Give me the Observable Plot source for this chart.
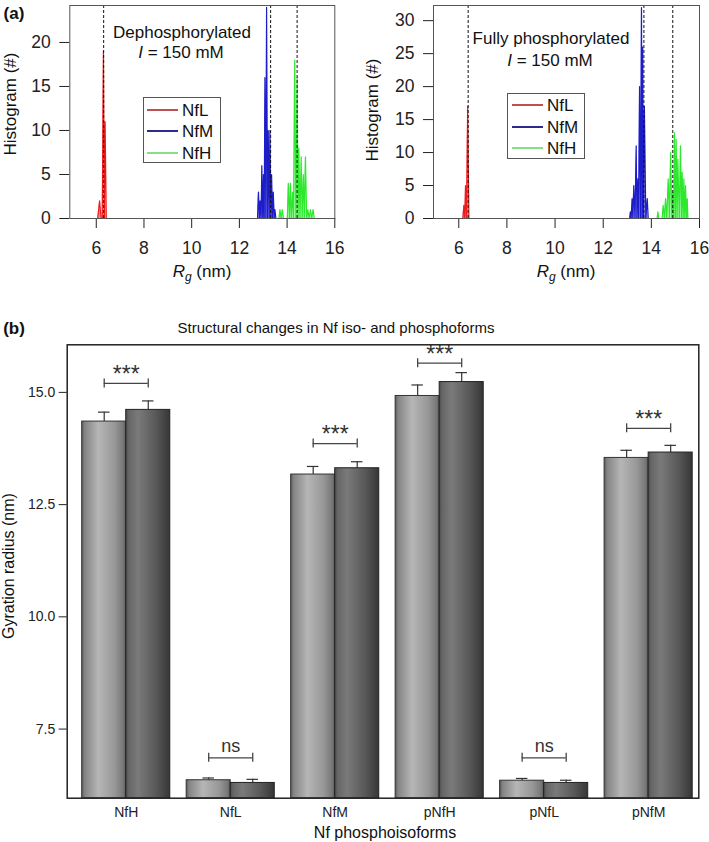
<!DOCTYPE html>
<html><head><meta charset="utf-8">
<script src="https://cdn.jsdelivr.net/npm/d3@7"></script>
<script src="https://cdn.jsdelivr.net/npm/@observablehq/plot@0.6"></script>
<style>
body{margin:0;background:#fff;font-family:"Liberation Sans",Arial,sans-serif;}
#wrap{position:relative;width:709px;height:842px;overflow:hidden;background:#fff;}
.abs{position:absolute;white-space:nowrap;color:#111;line-height:1;}
.plot{position:absolute;}
.legend{position:absolute;border:1px solid #555;background:#fff;box-sizing:border-box;}
</style></head><body><div id="wrap"></div>
<script>
// ---------- data: panel (a) histograms ----------
const rgTicks = [6, 8, 10, 12, 14, 16];
const seriesNames = ["NfL", "NfM", "NfH"];

const dephosNfL_rg = [5.47, 6.06, 6.14, 6.20, 6.25, 6.30, 6.34, 6.37, 6.42, 7.44];
const dephosNfL_n  = [0, 0, 2, 0, 0, 19, 0, 11, 0, 0];
const dephosNfM_rg = [12.55, 12.76, 12.80, 12.84, 12.87, 12.91, 12.94, 12.98, 13.01, 13.04, 13.07, 13.11, 13.14, 13.18, 13.21, 13.25, 13.28, 13.32, 13.35, 13.39, 13.42, 13.46, 13.49, 13.53, 13.60];
const dephosNfM_n  = [0, 0, 3, 0, 2, 0, 6, 0, 5, 0, 16, 0, 24, 0, 10, 0, 10, 0, 5, 0, 3, 0, 1, 0, 0];
const dephosNfH_rg = [13.60, 13.66, 13.70, 13.75, 13.80, 13.85, 14.01, 14.05, 14.10, 14.14, 14.18, 14.23, 14.27, 14.32, 14.37, 14.42, 14.46, 14.49, 14.54, 14.59, 14.63, 14.68, 14.72, 14.77, 14.82, 14.87, 14.92, 14.98, 15.03, 15.09, 15.14, 15.45];
const dephosNfH_n  = [0, 0, 1, 0, 1, 0, 0, 4, 0, 4, 0, 3, 0, 18, 0, 16, 0, 8, 0, 7, 0, 5, 0, 7, 0, 1, 0, 1, 0, 1, 0, 0];
const dephosMeans  = [6.31, 13.31, 14.42];

const phosNfL_rg = [5.52, 6.17, 6.21, 6.25, 6.28, 6.32, 6.37, 6.42, 7.48];
const phosNfL_n  = [0, 0, 2, 0, 5, 0, 17, 0, 0];
const phosNfM_rg = [13.08, 13.10, 13.13, 13.16, 13.20, 13.23, 13.27, 13.32, 13.37, 13.40, 13.44, 13.47, 13.51, 13.55, 13.59, 13.615, 13.64, 13.67, 13.71, 13.77, 13.83, 13.87];
const phosNfM_n  = [0, 0, 1, 0, 3, 0, 5, 0, 11, 0, 6, 0, 20, 0, 32, 0, 26, 0, 17, 0, 3, 0];
const phosNfH_rg = [14.20, 14.24, 14.27, 14.31, 14.45, 14.49, 14.54, 14.59, 14.64, 14.70, 14.75, 14.80, 14.85, 14.89, 14.93, 14.96, 15.00, 15.03, 15.07, 15.10, 15.16, 15.21, 15.25, 15.28, 15.32, 15.35, 15.39, 15.42, 15.46, 15.49, 15.52, 15.55];
const phosNfH_n  = [0, 0, 1, 0, 0, 2, 0, 3, 0, 6, 0, 10, 0, 4, 0, 13, 0, 12, 0, 9, 0, 11, 0, 7, 0, 6, 0, 5, 0, 3, 0, 0];
const phosMeans  = [6.39, 13.69, 14.89];

// ---------- data: panel (b) bar chart ----------
const groups   = ["NfH", "NfL", "NfM", "pNfH", "pNfL", "pNfM"];
const meanA    = [14.35, 6.36, 13.17, 14.92, 6.35, 13.54];
const errA     = [0.21, 0.05, 0.18, 0.245, 0.05, 0.17];
const meanB    = [14.61, 6.30, 13.31, 15.23, 6.30, 13.66];
const errB     = [0.20, 0.08, 0.145, 0.21, 0.06, 0.16];
const sigY     = [15.2, 6.86, 13.86, 15.65, 6.86, 14.2];
const sigLabel = ["***", "ns", "***", "***", "ns", "***"];
const gyrTicks = [7.5, 10.0, 12.5, 15.0];

// ---------- styles ----------
const lineColors   = ["#ee1c1c", "#1c1cc8", "#2ee82e"];
const areaColors   = ["#ff6a6a", "#6a6aff", "#8cff8c"];
const legendColors = ["#c05050", "#2c2c8c", "#86e086"];
const FONT = '"Liberation Sans", Arial, sans-serif';

const wrap = document.getElementById("wrap");

const defs = document.createElementNS("http://www.w3.org/2000/svg", "svg");
defs.setAttribute("width", 0); defs.setAttribute("height", 0);
defs.style.position = "absolute";
defs.innerHTML = `<defs>
<linearGradient id="gradA" x1="0" x2="1" y1="0" y2="0">
 <stop offset="0" stop-color="#5c5c5c"/><stop offset="0.07" stop-color="#858585"/>
 <stop offset="0.38" stop-color="#b6b6b6"/><stop offset="0.75" stop-color="#979797"/>
 <stop offset="0.94" stop-color="#787878"/><stop offset="1" stop-color="#5a5a5a"/>
</linearGradient>
<linearGradient id="gradB" x1="0" x2="1" y1="0" y2="0">
 <stop offset="0" stop-color="#4e4e4e"/><stop offset="0.07" stop-color="#666"/>
 <stop offset="0.28" stop-color="#7a7a7a"/><stop offset="0.7" stop-color="#575757"/>
 <stop offset="1" stop-color="#363636"/>
</linearGradient></defs>`;
wrap.appendChild(defs);

function addText(html, x, y, css = {}) {
  const d = document.createElement("div");
  d.className = "abs";
  d.innerHTML = html;
  Object.assign(d.style, {left: x + "px", top: y + "px", transform: "translate(-50%,-50%)"}, css);
  wrap.appendChild(d);
  return d;
}

function setAxisFont(svg, size) {
  svg.querySelectorAll("text").forEach(t => {
    if (t.closest('g[aria-label="text"]')) return;
    t.setAttribute("font-size", size);
    t.style.fontSize = size + "px";
    t.style.fontFamily = FONT;
  });
}

function histPlot(rgs, ns, means, xDomain, yDomain, left, mLeft, mRight) {
  const marks = [];
  rgs.forEach((rg, k) => {
    const rows = rg.map((r, j) => ({rg: r, n: ns[k][j]}));
    marks.push(Plot.areaY(rows, {x: "rg", y: "n", fill: areaColors[k], fillOpacity: 0.8}));
    marks.push(Plot.lineY(rows, {x: "rg", y: "n", stroke: lineColors[k], strokeWidth: 1.2}));
  });
  marks.push(Plot.ruleX(means, {x: d => d, stroke: "#111", strokeWidth: 1, strokeDasharray: "3,2"}));
  marks.push(Plot.frame({stroke: "#555", strokeWidth: 1}));
  const p = Plot.plot({
    width: 355 - (left ? 1 : 0), height: 290,
    marginLeft: mLeft, marginRight: mRight, marginTop: 5, marginBottom: 72,
    style: {fontFamily: FONT, fontSize: "17px", color: "#222", background: "transparent", overflow: "visible"},
    x: {domain: xDomain, ticks: rgTicks, tickSize: 10, tickPadding: 13, label: null},
    y: {domain: yDomain, tickSize: 10, tickPadding: 9, label: null},
    marks
  });
  p.classList.add("plot");
  p.style.left = left + "px"; p.style.top = "0px";
  wrap.appendChild(p);
  setAxisFont(p, 17.5);
  return p;
}

histPlot([dephosNfL_rg, dephosNfM_rg, dephosNfH_rg], [dephosNfL_n, dephosNfM_n, dephosNfH_n],
  dephosMeans, [4.89, 16], [0, 24.2], 0, 69.3, 20.7);
histPlot([phosNfL_rg, phosNfM_rg, phosNfH_rg], [phosNfL_n, phosNfM_n, phosNfH_n],
  phosMeans, [4.95, 16], [0, 32.3], 355, 78, 10);

addText("<b>(a)</b>", 14, 13, {fontSize: "17px"});
addText("Histogram (#)", 10, 104, {fontSize: "17px", transform: "translate(-50%,-50%) rotate(-90deg)"});
addText("Histogram (#)", 372, 110, {fontSize: "17px", transform: "translate(-50%,-50%) rotate(-90deg)"});
addText("<i>R</i><sub style='font-size:12px;vertical-align:-4px'><i>g</i></sub> (nm)", 202, 273, {fontSize: "17px"});
addText("<i>R</i><sub style='font-size:12px;vertical-align:-4px'><i>g</i></sub> (nm)", 566, 273, {fontSize: "17px"});
addText("Dephosphorylated", 182, 32, {fontSize: "17px"});
addText("<i>I</i> = 150 mM", 181, 52, {fontSize: "17px"});
addText("Fully phosphorylated", 551, 38, {fontSize: "17px"});
addText("<i>I</i> = 150 mM", 550, 60, {fontSize: "17px"});

function legend(x, y, w, h, rowsY, lx1, lx2, tx) {
  const box = document.createElement("div");
  box.className = "legend";
  Object.assign(box.style, {left: x + "px", top: y + "px", width: w + "px", height: h + "px"});
  wrap.appendChild(box);
  seriesNames.forEach((s, k) => {
    const ln = document.createElement("div");
    Object.assign(ln.style, {position: "absolute", left: lx1 + "px", top: Math.round(rowsY[k] - 1) + "px",
      width: (lx2 - lx1) + "px", height: "2px", background: legendColors[k]});
    wrap.appendChild(ln);
    addText(s, tx, rowsY[k], {fontSize: "17px", transform: "translate(0,-50%)"});
  });
}
legend(143, 97, 78, 66, [110, 131, 153], 147, 178, 182);
legend(507, 93, 78, 66, [105, 127, 148], 512, 543, 547);

// ---------- panel (b) ----------
const hw = 0.4215, cap = 0.055, yMin = 5.96;
const barsA = groups.map((g, i) => ({i, g, x1: i - hw, x2: i, v: meanA[i], e: errA[i]}));
const barsB = groups.map((g, i) => ({i, g, x1: i, x2: i + hw, v: meanB[i], e: errB[i]}));
const allBars = barsA.concat(barsB);
const sig = groups.map((g, i) => ({i, y: sigY[i], t: sigLabel[i]}));
const mid = d => (d.x1 + d.x2) / 2;

const pb = Plot.plot({
  width: 709, height: 507,
  marginLeft: 66.7, marginRight: 10.7, marginTop: 9.3, marginBottom: 44.3,
  style: {fontFamily: FONT, fontSize: "14px", color: "#222", background: "transparent", overflow: "visible"},
  x: {domain: [-0.565, 5.48], ticks: d3.range(groups.length), tickFormat: d => groups[d], tickSize: 0, tickPadding: 9, label: null},
  y: {domain: [yMin, 16.06], ticks: gyrTicks, tickFormat: d3.format(".1f"), tickSize: 8, tickPadding: 4, label: null},
  marks: [
    Plot.ruleX(allBars, {x: mid, y1: "v", y2: d => d.v + d.e, stroke: "#333", strokeWidth: 1.2}),
    Plot.ruleY(allBars, {y: d => d.v + d.e, x1: d => mid(d) - cap, x2: d => mid(d) + cap, stroke: "#333", strokeWidth: 1.2}),
    Plot.rectY(barsA, {x1: "x1", x2: "x2", y1: yMin, y2: "v", fill: "url(#gradA)", stroke: "#333", strokeWidth: 1}),
    Plot.rectY(barsB, {x1: "x1", x2: "x2", y1: yMin, y2: "v", fill: "url(#gradB)", stroke: "#222", strokeWidth: 1}),
    Plot.ruleY(sig, {y: "y", x1: d => d.i - hw / 2, x2: d => d.i + hw / 2, stroke: "#444", strokeWidth: 1.3}),
    Plot.ruleX(sig, {x: d => d.i - hw / 2, y1: d => d.y - 0.1, y2: d => d.y + 0.1, stroke: "#444", strokeWidth: 1.3}),
    Plot.ruleX(sig, {x: d => d.i + hw / 2, y1: d => d.y - 0.1, y2: d => d.y + 0.1, stroke: "#444", strokeWidth: 1.3}),
    Plot.text(sig.filter(d => d.t === "ns"), {x: "i", y: "y", text: "t", dy: -12, fontSize: 18, fill: "#333"}),
    Plot.text(sig.filter(d => d.t !== "ns"), {x: "i", y: "y", text: "t", dy: -9, fontSize: 23, fill: "#333"}),
    Plot.frame({stroke: "#222", strokeWidth: 1.5})
  ]
});
pb.classList.add("plot");
pb.style.left = "0px"; pb.style.top = "335px";
wrap.appendChild(pb);
setAxisFont(pb, 14);

addText("<b>(b)</b>", 14, 328, {fontSize: "17px"});
addText("Structural changes in Nf iso- and phosphoforms", 336, 327, {fontSize: "15px"});
addText("Gyration radius (nm)", 9, 566, {fontSize: "16px", transform: "translate(-50%,-50%) rotate(-90deg)"});
addText("Nf phosphoisoforms", 385, 833, {fontSize: "16px"});
</script></body></html>
